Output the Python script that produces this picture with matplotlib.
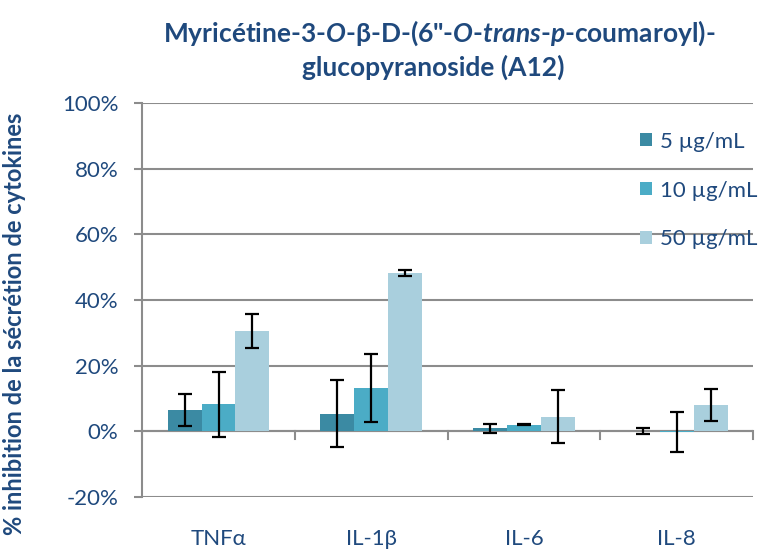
import matplotlib
matplotlib.use("Agg")
import matplotlib.pyplot as plt
import numpy as np

# Data: % inhibition of cytokine secretion (mean and error)
categories = ["TNFα", "IL-1β", "IL-6", "IL-8"]
series_names = ["5 µg/mL", "10 µg/mL", "50 µg/mL"]
val_5 = [6.5, 5.4, 0.9, 0.0]
val_10 = [8.2, 13.1, 2.0, -0.2]
val_50 = [30.6, 48.3, 4.5, 8.0]
err_5 = [4.8, 10.3, 1.4, 0.9]
err_10 = [9.8, 10.3, 0.2, 6.1]
err_50 = [5.2, 0.9, 8.0, 5.0]
yticks = [-20, 0, 20, 40, 60, 80, 100]

colors = ["#3B8AA3", "#4BACC6", "#A9CFDD"]
text_col = "#1F497D"
grid_col = "#8C8C8C"

plt.rcParams["font.family"] = ["Lato", "DejaVu Sans"]
plt.rcParams["mathtext.fontset"] = "custom"
plt.rcParams["mathtext.bfit"] = "Lato:bold:italic"
plt.rcParams["mathtext.bf"] = "Lato:bold"
plt.rcParams["mathtext.rm"] = "Lato:bold"

fig = plt.figure(figsize=(7.6, 5.54), dpi=100)
ax = fig.add_axes([0.187, 0.103, 0.804, 0.711])

x = np.arange(len(categories))
w = 0.222
vals = [val_5, val_10, val_50]
errs = [err_5, err_10, err_50]
for i, (v, e, c, n) in enumerate(zip(vals, errs, colors, series_names)):
    pos = x + (i - 1) * w
    ax.bar(pos, v, width=w, color=c, label=n, zorder=3)
    ax.errorbar(pos, v, yerr=e, fmt="none", ecolor="black", elinewidth=1.6,
                capsize=5, capthick=1.6, zorder=4)

ax.set_xlim(-0.5, len(categories) - 0.5)
ax.set_ylim(-20, 100)
ax.set_yticks(yticks)
ax.set_yticklabels([f"{t}%" for t in yticks])
ax.yaxis.grid(True, color=grid_col, linewidth=1.5, zorder=0)
ax.set_axisbelow(True)

for s in ["top", "right", "bottom"]:
    ax.spines[s].set_visible(False)
ax.spines["left"].set_color(grid_col)
ax.spines["left"].set_linewidth(1.5)

ax.tick_params(axis="y", colors=grid_col, labelcolor=text_col, labelsize=16,
               length=6, width=1.5, pad=11)
ax.set_xticks([])

# category axis at zero with boundary tick marks
ax.axhline(0, color=grid_col, linewidth=1.5, zorder=2)
for b in np.arange(len(categories) + 1) - 0.5:
    ax.plot([b, b], [0, -2.3], color=grid_col, linewidth=1.5, zorder=2,
            clip_on=False)
for xi, cat in zip(x, categories):
    ax.text(xi, -32.9, cat, ha="center", va="center", fontsize=16,
            color=text_col)

ax.set_ylabel("% inhibition de la sécrétion de cytokines", fontsize=17,
              fontweight="bold", color=text_col)
ax.yaxis.set_label_coords(-0.19, 0.44)

leg = ax.legend(loc="upper left", bbox_to_anchor=(0.80, 0.95), frameon=False,
                fontsize=16, handlelength=0.55, handleheight=0.55,
                handletextpad=0.35, labelspacing=1.3, borderaxespad=0)
for t in leg.get_texts():
    t.set_color(text_col)

line1 = ("Myricétine-3-$\\mathbfit{O}$-β-D-(6\"-$\\mathbfit{O}$-"
         "$\\mathbfit{trans}$-$\\mathbfit{p}$-coumaroyl)-")
fig.text(0.578, 1 - 33 / 554, line1, ha="center", va="center", fontsize=19,
         fontweight="bold", color=text_col)
fig.text(0.570, 1 - 67 / 554, "glucopyranoside (A12)", ha="center",
         va="center", fontsize=19, fontweight="bold", color=text_col)

fig.savefig("out.png", dpi=100)
